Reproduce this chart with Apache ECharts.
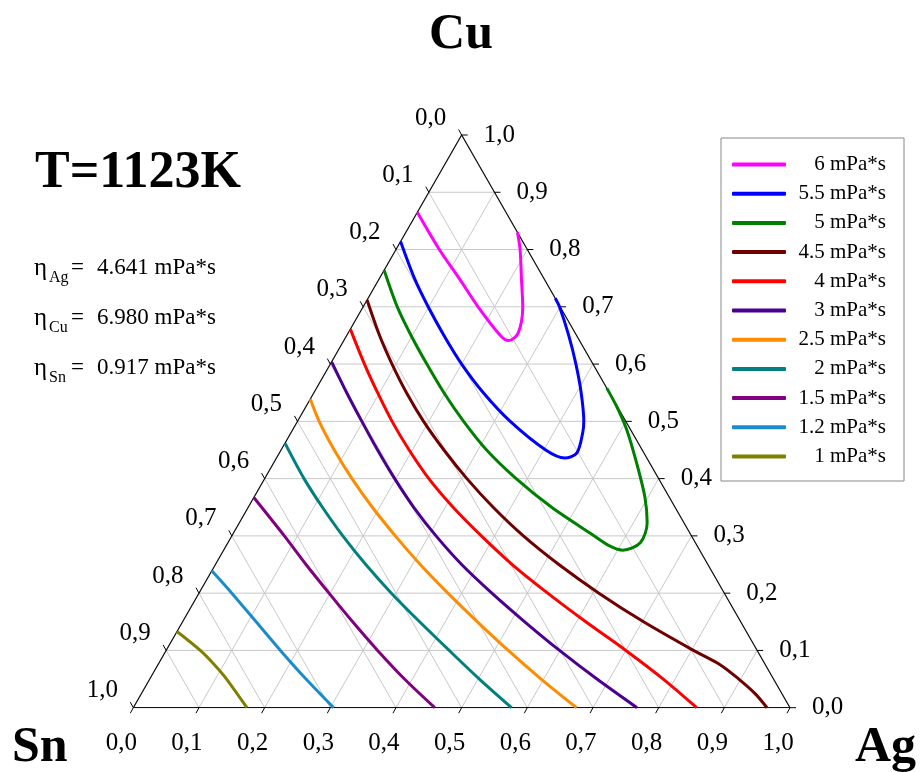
<!DOCTYPE html>
<html>
<head>
<meta charset="utf-8">
<title>Ag-Cu-Sn viscosity, T=1123K</title>
<script src="https://cdn.jsdelivr.net/npm/echarts/dist/echarts.min.js"></script>
<style>
  html, body { margin: 0; padding: 0; background: #fff; }
  #chart { width: 920px; height: 772px; }
</style>
</head>
<body>
<div id="chart"></div>
<script>
var SERIF = '"Liberation Serif", "Times New Roman", serif';

var temperature = 'T=1123K';
var etaNames = ['Ag', 'Cu', 'Sn'];
var etaValues = ['4.641 mPa*s', '6.980 mPa*s', '0.917 mPa*s'];

var levels = ['6', '5.5', '5', '4.5', '4', '3', '2.5', '2', '1.5', '1.2', '1'];
var levelColors = ['#ff00ff', '#0000ff', '#008000', '#700000', '#ff0000', '#4b0090',
  '#ff8c00', '#008080', '#800080', '#1a8ccc', '#808000'];

// iso-viscosity lines, points are [x_Ag, x_Cu] (x_Sn = 1 - x_Ag - x_Cu)
var visc6 = [[0, 0.865], [0.066, 0.8], [0.121, 0.75], [0.175, 0.7], [0.234, 0.65],
  [0.251, 0.641], [0.259, 0.654], [0.243, 0.7], [0.216, 0.75], [0.189, 0.8], [0.17, 0.83]];
var visc55 = [[0, 0.814], [0.053, 0.75], [0.099, 0.7], [0.148, 0.65], [0.2, 0.6],
  [0.258, 0.55], [0.324, 0.5], [0.403, 0.45], [0.439, 0.436], [0.453, 0.445],
  [0.444, 0.481], [0.436, 0.5], [0.407, 0.55], [0.374, 0.6], [0.338, 0.65],
  [0.299, 0.7], [0.285, 0.715]];
var visc5 = [[0, 0.764], [0.052, 0.7], [0.098, 0.65], [0.147, 0.6], [0.198, 0.55],
  [0.253, 0.5], [0.313, 0.45], [0.383, 0.4], [0.462, 0.35], [0.552, 0.3], [0.585, 0.282],
  [0.608, 0.275], [0.628, 0.288], [0.621, 0.323], [0.595, 0.368], [0.553, 0.427],
  [0.509, 0.485], [0.473, 0.526], [0.442, 0.558]];
var visc45 = [[0, 0.712], [0.05, 0.65], [0.094, 0.6], [0.141, 0.55], [0.192, 0.5],
  [0.248, 0.45], [0.308, 0.4], [0.373, 0.35], [0.444, 0.3], [0.523, 0.25], [0.609, 0.2],
  [0.702, 0.15], [0.803, 0.1], [0.856, 0.075], [0.897, 0.05], [0.934, 0.025], [0.965, 0]];
var visc4 = [[0, 0.661], [0.052, 0.6], [0.097, 0.55], [0.144, 0.5], [0.195, 0.45],
  [0.25, 0.4], [0.312, 0.35], [0.38, 0.3], [0.452, 0.25], [0.531, 0.2], [0.614, 0.15],
  [0.7, 0.1], [0.782, 0.05], [0.858, 0]];
var visc3 = [[0, 0.604], [0.05, 0.55], [0.098, 0.5], [0.147, 0.45], [0.198, 0.4],
  [0.252, 0.35], [0.311, 0.3], [0.375, 0.25], [0.446, 0.2], [0.521, 0.15], [0.599, 0.1],
  [0.681, 0.05], [0.767, 0]];
var visc25 = [[0, 0.539], [0.033, 0.5], [0.081, 0.45], [0.133, 0.4], [0.189, 0.35],
  [0.249, 0.3], [0.312, 0.25], [0.379, 0.2], [0.449, 0.15], [0.521, 0.1], [0.596, 0.05], [0.675, 0]];
var visc2 = [[0, 0.462], [0.06, 0.4], [0.113, 0.35], [0.169, 0.3], [0.229, 0.25],
  [0.293, 0.2], [0.361, 0.15], [0.431, 0.1], [0.502, 0.05], [0.576, 0]];
var visc15 = [[0, 0.367], [0.08, 0.3], [0.138, 0.25], [0.198, 0.2], [0.259, 0.15],
  [0.322, 0.1], [0.388, 0.05], [0.459, 0]];
var visc12 = [[0, 0.239], [0.05, 0.2], [0.112, 0.15], [0.174, 0.1], [0.238, 0.05], [0.305, 0]];
var visc1 = [[0, 0.133], [0.052, 0.1], [0.086, 0.075], [0.117, 0.05], [0.173, 0]];

var contours = [visc6, visc55, visc5, visc45, visc4, visc3, visc25, visc2, visc15, visc12, visc1];

var tickValues = [0, 0.1, 0.2, 0.3, 0.4, 0.5, 0.6, 0.7, 0.8, 0.9, 1];
var tickLabels = ['0,0', '0,1', '0,2', '0,3', '0,4', '0,5', '0,6', '0,7', '0,8', '0,9', '1,0'];

// ternary -> plane (x along Sn-Ag edge, y = Cu fraction; grid box keeps it equilateral)
function toXY(ag, cu) {
  return [ag + cu / 2, cu];
}

var gridSegs = [];
tickValues.slice(1, -1).forEach(function (v) {
  gridSegs.push(toXY(0, v).concat(toXY(1 - v, v)));      // Cu = v
  gridSegs.push(toXY(v, 0).concat(toXY(v, 1 - v)));      // Ag = v
  gridSegs.push(toXY(0, 1 - v).concat(toXY(1 - v, 0)));  // Sn = v
});

// side: 0 bottom (Ag), 1 left (Sn), 2 right (Cu)
var tickData = [];
tickValues.forEach(function (v, i) {
  tickData.push(toXY(v, 0).concat([0, i]));
  tickData.push(toXY(0, 1 - v).concat([1, i]));
  tickData.push(toXY(1 - v, v).concat([2, i]));
});
var tickDir = [[-3, 5.5], [-3, -5.5], [6, 0]];
var labelOff = [[-12, 36, 'center'], [-31, -17, 'center'], [22, 0, 'left']];

function txt(text, x, y, font, align) {
  return {
    type: 'text', x: x, y: y,
    style: {
      text: text, font: font, fill: '#000',
      align: align, verticalAlign: 'middle',
      textAlign: align, textVerticalAlign: 'middle'
    }
  };
}

var graphics = [
  txt('Cu', 461, 35, 'bold 50px ' + SERIF, 'center'),
  txt('Sn', 12, 748, 'bold 50px ' + SERIF, 'left'),
  txt('Ag', 855, 748, 'bold 50px ' + SERIF, 'left'),
  txt(temperature, 35, 174, 'bold 52px ' + SERIF, 'left')
];
etaNames.forEach(function (n, i) {
  var y = 268 + 50 * i;
  graphics.push(txt('\u03b7', 34, y, '25px ' + SERIF, 'left'));
  graphics.push(txt(n, 49, y + 10, '16px ' + SERIF, 'left'));
  graphics.push(txt('=', 71, y, '23px ' + SERIF, 'left'));
  graphics.push(txt(etaValues[i], 97, y, '23px ' + SERIF, 'left'));
});

var names = levels.map(function (l) { return l + ' mPa*s'; });

var series = [
  {
    type: 'custom',
    name: 'grid',
    silent: true,
    z: 1,
    encode: { x: [0, 2], y: [1, 3] },
    data: gridSegs,
    renderItem: function (params, api) {
      var a = api.coord([api.value(0), api.value(1)]);
      var b = api.coord([api.value(2), api.value(3)]);
      return {
        type: 'line',
        shape: { x1: a[0], y1: a[1], x2: b[0], y2: b[1] },
        style: { stroke: '#c8c8c8', lineWidth: 1 }
      };
    }
  },
  {
    type: 'line',
    name: 'frame',
    silent: true,
    z: 2,
    showSymbol: false,
    lineStyle: { color: '#111', width: 1.3 },
    data: [toXY(0, 0), toXY(1, 0), toXY(0, 1), toXY(0, 0)]
  },
  {
    type: 'custom',
    name: 'ticks',
    silent: true,
    z: 3,
    encode: { x: 0, y: 1 },
    data: tickData,
    renderItem: function (params, api) {
      var p = api.coord([api.value(0), api.value(1)]);
      var side = api.value(2);
      var d = tickDir[side], o = labelOff[side];
      return {
        type: 'group',
        children: [
          {
            type: 'line',
            shape: { x1: p[0], y1: p[1], x2: p[0] + d[0], y2: p[1] + d[1] },
            style: { stroke: '#000', lineWidth: 1 }
          },
          {
            type: 'text', x: p[0] + o[0], y: p[1] + o[1],
            style: {
              text: tickLabels[api.value(3)], font: '25px ' + SERIF, fill: '#000',
              align: o[2], verticalAlign: 'middle', textAlign: o[2], textVerticalAlign: 'middle'
            }
          }
        ]
      };
    }
  }
];

contours.forEach(function (pts, i) {
  series.push({
    type: 'line',
    name: names[i],
    z: 4,
    smooth: 0.3,
    showSymbol: false,
    color: levelColors[i],
    lineStyle: { color: levelColors[i], width: 3 },
    data: pts.map(function (p) { return toXY(p[0], p[1]); })
  });
});

var chart = echarts.init(document.getElementById('chart'));
var option = {
  animation: false,
  backgroundColor: '#fff',
  grid: { left: 133.3, right: 130, top: 135, bottom: 64.3 },
  xAxis: { type: 'value', min: 0, max: 1, show: false },
  yAxis: { type: 'value', min: 0, max: 1, show: false },
  legend: {
    data: names,
    orient: 'vertical',
    left: 721,
    top: 138,
    padding: [16, 18, 14, 11],
    itemGap: 8.2,
    itemWidth: 54,
    itemHeight: 4,
    icon: 'roundRect',
    borderColor: '#888',
    borderWidth: 1,
    selectedMode: false,
    formatter: function (name) { return '{r|' + name + '}'; },
    textStyle: {
      rich: {
        r: { width: 95, align: 'right', fontSize: 21, fontFamily: SERIF, color: '#000', lineHeight: 20 }
      }
    }
  },
  graphic: graphics,
  series: series
};
chart.setOption(option);
</script>
</body>
</html>
